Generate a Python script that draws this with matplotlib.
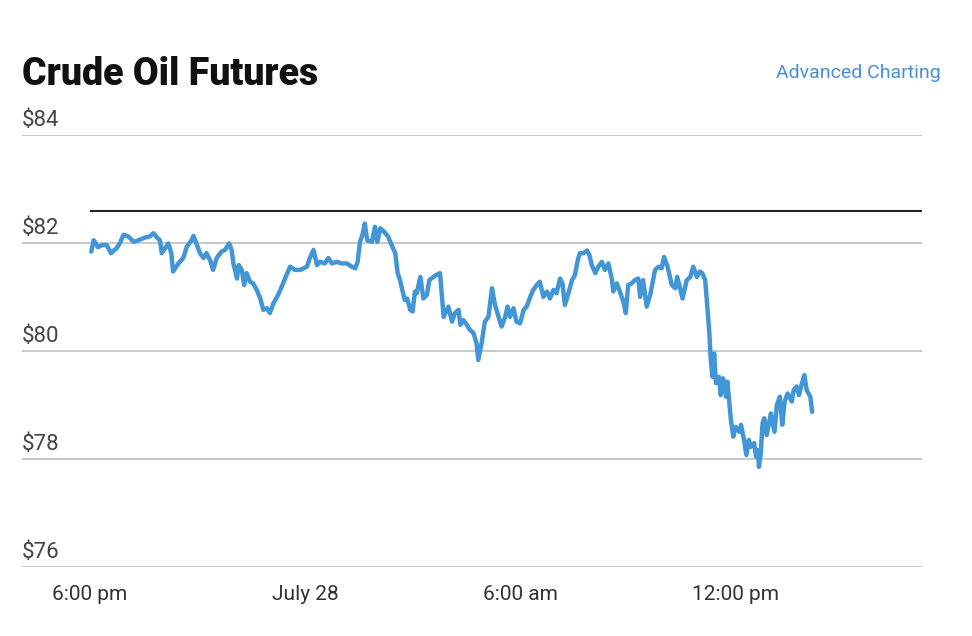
import matplotlib
matplotlib.use("Agg")
import matplotlib.pyplot as plt

# minutes since 6:00 pm (July 27)
minutes = [2, 6, 8, 13, 20, 28, 35, 45, 50, 56, 64, 73, 81, 92, 100, 106, 112, 117, 120, 126,
           131, 136, 139, 148, 156, 162, 170, 173, 179, 184, 190, 195, 201, 206, 212, 220, 226, 233, 237, 240,
           246, 249, 254, 258,
           262, 268, 273, 279, 285, 290, 296, 301, 307, 315, 321, 329, 335, 343, 352, 363, 368, 374, 380, 385,
           393, 399, 405, 413, 421, 430, 438, 444, 448, 452, 456, 460, 464, 472, 477, 481, 486, 492, 499, 505,
           511, 515,
           519, 524, 527, 531, 536, 540, 544, 547, 553, 558, 564, 568, 575, 580, 586, 592, 600, 606, 611, 617,
           620, 625, 631, 636, 642, 647, 650, 656, 661, 667, 673, 678, 684, 689, 695, 699, 703, 709, 714, 720,
           726, 731, 737, 742, 748, 753,
           759, 765, 770, 776, 781, 787, 791, 795, 801, 807, 812, 816, 820, 826, 832, 836, 840, 846, 851, 857,
           862, 868, 874, 876, 882, 887, 893, 897, 901, 907, 912, 918, 921, 926, 932, 938, 946, 952, 957, 961,
           967, 974, 980, 983, 988, 992, 999, 1005, 1010, 1016, 1021, 1025,
           1030, 1034, 1037, 1039, 1042, 1045, 1048, 1053, 1056, 1060, 1065, 1067, 1070, 1073, 1077, 1081, 1087,
           1090, 1095, 1099, 1103, 1106, 1112, 1115, 1118, 1120, 1123, 1126, 1129, 1133, 1137, 1140, 1146, 1150,
           1155, 1159, 1163, 1168, 1175, 1178, 1183, 1187, 1192, 1196, 1200, 1206, 1209]

prices = [81.84, 82.05, 82.02, 81.92, 81.96, 81.96, 81.81, 81.91, 82.00, 82.15, 82.12, 82.02, 82.05, 82.10,
          82.12, 82.18, 82.10, 82.05, 81.81, 81.91, 81.99, 81.81, 81.47, 81.62, 81.72, 81.93, 82.05, 82.13,
          81.96, 81.81, 81.72, 81.81, 81.68, 81.50, 81.72, 81.84, 81.87, 81.99, 81.87, 81.62, 81.34, 81.59,
          81.50, 81.22,
          81.44, 81.28, 81.25, 81.13, 80.97, 80.76, 80.79, 80.70, 80.88, 81.04, 81.19, 81.41, 81.56, 81.50,
          81.50, 81.56, 81.72, 81.87, 81.59, 81.65, 81.62, 81.72, 81.62, 81.65, 81.62, 81.62, 81.56, 81.53,
          81.65, 82.02, 82.15, 82.36, 82.05, 82.02, 82.30, 82.02, 82.27, 82.21, 82.12, 81.96, 81.81, 81.44,
          81.31, 81.07, 80.94, 80.97, 80.76, 80.73, 81.10, 81.07, 81.37, 80.97, 81.04, 81.31, 81.37, 81.41,
          81.44, 80.63, 80.82, 80.54, 80.70, 80.76, 80.48, 80.57, 80.48, 80.39, 80.33, 80.14, 79.83, 80.17,
          80.54, 80.63, 81.16, 80.85, 80.63, 80.45, 80.63, 80.82, 80.63, 80.79, 80.54, 80.51, 80.76, 80.82,
          81.00, 81.13, 81.22, 81.28,
          81.00, 81.10, 80.97, 81.13, 81.07, 81.34, 81.25, 80.85, 81.07, 81.31, 81.41, 81.65, 81.81, 81.81,
          81.86, 81.78, 81.59, 81.44, 81.56, 81.65, 81.50, 81.62, 81.31, 81.10, 81.25, 81.10, 80.91, 80.70,
          81.22, 81.25, 81.31, 81.34, 81.00, 81.31, 80.82, 81.04, 81.50, 81.56, 81.53, 81.74, 81.56, 81.22,
          81.16, 81.37, 81.16, 80.97, 81.31, 81.37, 81.56, 81.37, 81.47, 81.44,
          81.31, 80.76, 80.33, 79.89, 79.52, 79.95, 79.40, 79.52, 79.18, 79.49, 79.15, 79.43, 79.09, 78.72,
          78.41, 78.59, 78.50, 78.63, 78.35, 78.07, 78.35, 78.22, 78.29, 78.04, 78.16, 77.85, 78.10, 78.66,
          78.75, 78.44, 78.66, 78.84, 78.50, 79.00, 79.15, 78.63, 79.06, 79.21, 79.06, 79.27, 79.34, 79.18,
          79.40, 79.55, 79.27, 79.15, 78.87]

prev_close = 82.60
y_ticks = [76, 78, 80, 82, 84]
y_labels = ["$76", "$78", "$80", "$82", "$84"]
x_ticks = [0, 360, 720, 1080]
x_labels = ["6:00 pm", "July 28", "6:00 am", "12:00 pm"]
title = "Crude Oil Futures"
link_text = "Advanced Charting"

FONT = ["Roboto", "DejaVu Sans"]
plt.rcParams["font.family"] = FONT

W, H = 972, 636
fig = plt.figure(figsize=(W / 100, H / 100), dpi=100)
fig.patch.set_facecolor("white")

left, right = 22 / W, 922 / W
bottom, top = 1 - 566.7 / H, 1 - 135 / H
ax = fig.add_axes([left, bottom, right - left, top - bottom])
ax.set_xlim(-114, 1393)
ax.set_ylim(76, 84)

for v in y_ticks:
    ax.axhline(v, color="#c9c9c9", lw=1.4, zorder=1)
for v, lab in zip(y_ticks, y_labels):
    ax.annotate(lab, xy=(0, v), xycoords=("axes fraction", "data"),
                xytext=(0, 4), textcoords="offset pixels",
                ha="left", va="bottom", fontsize=16, color="#444444")

ax.hlines(prev_close, 0, 1393, color="#222222", lw=1.5, zorder=2)
ax.plot(minutes, prices, color="#4296d6", lw=3.2, solid_joinstyle="round",
        solid_capstyle="round", zorder=3)

for s in ax.spines.values():
    s.set_visible(False)
ax.set_yticks([])
ax.set_xticks(x_ticks)
ax.set_xticklabels(x_labels, fontsize=15, color="#333333")
ax.tick_params(axis="x", length=0, pad=13)

fig.text(22 / W, 1 - 85 / H, title, fontsize=27, fontweight="black",
         color="#111111", ha="left", va="baseline")
fig.text(941 / W, 1 - 78 / H, link_text, fontsize=14, color="#4a8fd8",
         ha="right", va="baseline")

fig.savefig("out.png", dpi=100)
